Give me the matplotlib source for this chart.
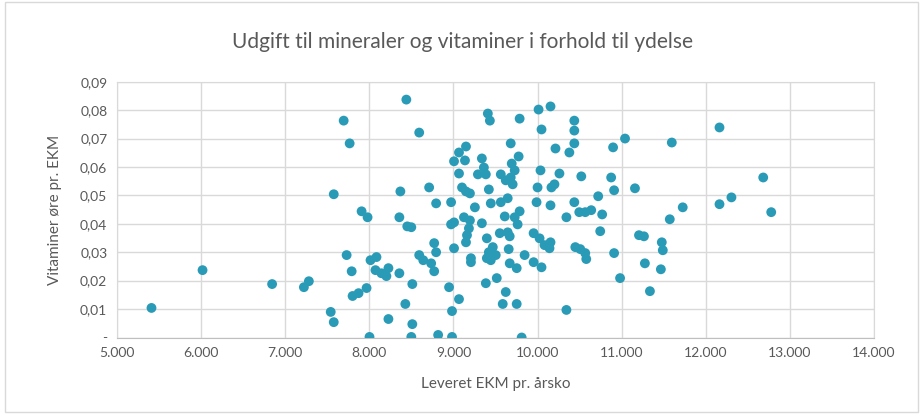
import matplotlib.pyplot as plt
from matplotlib.patches import Rectangle

# Leveret EKM pr. årsko (x) og vitaminer øre pr. EKM (y)
ekm = [5410, 6017, 6844, 7222, 7281, 7541, 7577, 7577, 7695, 7766,
       7730, 7790, 7801, 7872, 7967, 7908, 7979, 8014, 8002, 8085,
       8073, 8144, 8203, 8227, 8357, 8357, 8451, 8499, 8511, 8428,
       8227, 8511, 8499, 8369, 8440, 8593, 8593, 8641, 8735, 8711,
       8771, 8794, 8771, 8794, 8972, 9007, 9066, 9137, 9149, 9066,
       9102, 9149, 9196, 9255, 9338, 9362, 9291, 9385, 9409, 9433,
       9421, 9444, 9563, 9645, 9563, 9622, 9704, 9681, 9728, 9693,
       9775, 9681, 9787, 9988, 10000, 10012, 10154, 10047, 10035, 10154,
       10165, 10201, 10213, 10260, 10437, 10437, 10437, 10378, 10520, 10437,
       10721, 10898, 10875, 10910, 11040, 11158, 10496, 10567, 10638, 10768,
       10343, 8972, 9007, 9125, 9196, 9184, 9161, 9149, 9338, 9610,
       9728, 9787, 9763, 9397, 9551, 9645, 9669, 9468, 9421, 9397,
       9503, 9444, 9657, 9846, 9669, 9752, 9953, 10024, 10083, 10142,
       10154, 9953, 10047, 10449, 10508, 10579, 10567, 10745, 10910, 9007,
       9208, 9208, 8948, 9066, 8983, 9385, 9515, 9622, 9586, 9752,
       10343, 10981, 8818, 8983, 9811, 12163, 11596, 12683, 11726, 12163,
       12305, 12778, 11572, 11206, 11265, 11477, 11489, 11276, 11466, 11336]

vitaminer = [0.0104, 0.0237, 0.0188, 0.0177, 0.0198, 0.0090, 0.0054, 0.0504, 0.0763, 0.0683,
             0.0290, 0.0233, 0.0146, 0.0156, 0.0174, 0.0444, 0.0423, 0.0272, 0.0002, 0.0283,
             0.0237, 0.0226, 0.0216, 0.0244, 0.0226, 0.0423, 0.0391, 0.0388, 0.0188, 0.0118,
             0.0065, 0.0047, 0.0002, 0.0514, 0.0837, 0.0721, 0.0290, 0.0272, 0.0261, 0.0528,
             0.0332, 0.0300, 0.0233, 0.0472, 0.0476, 0.0620, 0.0651, 0.0623, 0.0672, 0.0577,
             0.0528, 0.0514, 0.0507, 0.0458, 0.0630, 0.0598, 0.0574, 0.0574, 0.0788, 0.0763,
             0.0521, 0.0472, 0.0476, 0.0490, 0.0574, 0.0553, 0.0539, 0.0563, 0.0588, 0.0612,
             0.0637, 0.0683, 0.0770, 0.0476, 0.0528, 0.0802, 0.0813, 0.0732, 0.0588, 0.0465,
             0.0528, 0.0539, 0.0665, 0.0577, 0.0763, 0.0728, 0.0683, 0.0651, 0.0567, 0.0476,
             0.0497, 0.0669, 0.0563, 0.0518, 0.0700, 0.0525, 0.0441, 0.0441, 0.0448, 0.0433,
             0.0423, 0.0398, 0.0405, 0.0423, 0.0412, 0.0384, 0.0360, 0.0335, 0.0402, 0.0426,
             0.0423, 0.0444, 0.0398, 0.0349, 0.0367, 0.0370, 0.0356, 0.0318, 0.0300, 0.0279,
             0.0290, 0.0272, 0.0311, 0.0290, 0.0261, 0.0244, 0.0367, 0.0349, 0.0325, 0.0314,
             0.0335, 0.0265, 0.0247, 0.0318, 0.0311, 0.0276, 0.0297, 0.0374, 0.0297, 0.0314,
             0.0279, 0.0265, 0.0177, 0.0135, 0.0093, 0.0191, 0.0209, 0.0160, 0.0118, 0.0118,
             0.0097, 0.0209, 0.0009, 0.0002, 0.0000, 0.0739, 0.0686, 0.0563, 0.0458, 0.0469,
             0.0493, 0.0441, 0.0416, 0.0360, 0.0356, 0.0335, 0.0307, 0.0261, 0.0240, 0.0163]

x_ticks = [5000, 6000, 7000, 8000, 9000, 10000, 11000, 12000, 13000, 14000]
x_labels = ['5.000', '6.000', '7.000', '8.000', '9.000', '10.000', '11.000', '12.000', '13.000', '14.000']
y_ticks = [0, 0.01, 0.02, 0.03, 0.04, 0.05, 0.06, 0.07, 0.08, 0.09]
y_labels = ['-', '0,01', '0,02', '0,03', '0,04', '0,05', '0,06', '0,07', '0,08', '0,09']

plt.rcParams['font.family'] = ['Lato', 'DejaVu Sans']
tekst = '#595959'
gitter = '#d9d9d9'

fig = plt.figure(figsize=(9.24, 4.18), dpi=100)
ax = fig.add_axes([117/924, 1 - 337.5/418, (874 - 117)/924, (337.5 - 81.7)/418])

ax.scatter(ekm, vitaminer, s=50, color='#2a9bb7', edgecolors='none', zorder=3)

ax.set_xlim(5000, 14000)
ax.set_ylim(0, 0.09)
ax.set_xticks(x_ticks)
ax.set_xticklabels(x_labels)
ax.set_yticks(y_ticks)
ax.set_yticklabels(y_labels)
ax.tick_params(length=0, labelsize=10, colors=tekst, pad=7)
ax.grid(True, color=gitter, linewidth=1)
ax.set_axisbelow(True)
for side in ['top', 'right', 'left']:
    ax.spines[side].set_color(gitter)
ax.spines['bottom'].set_color('#bfbfbf')

ax.set_xlabel('Leveret EKM pr. årsko', fontsize=11, color=tekst, labelpad=13)
ax.set_ylabel('Vitaminer øre pr. EKM', fontsize=11, color=tekst, labelpad=13)
fig.text(0.5, 1 - 42/418, 'Udgift til mineraler og vitaminer i forhold til ydelse',
         ha='center', va='center', fontsize=15, color=tekst)

# ramme om diagrammet
fig.patches.append(Rectangle((5/924, 6/418), 913/924, 410/418, transform=fig.transFigure,
                             fill=False, edgecolor=gitter, linewidth=1))

fig.savefig('out.png', dpi=100)
